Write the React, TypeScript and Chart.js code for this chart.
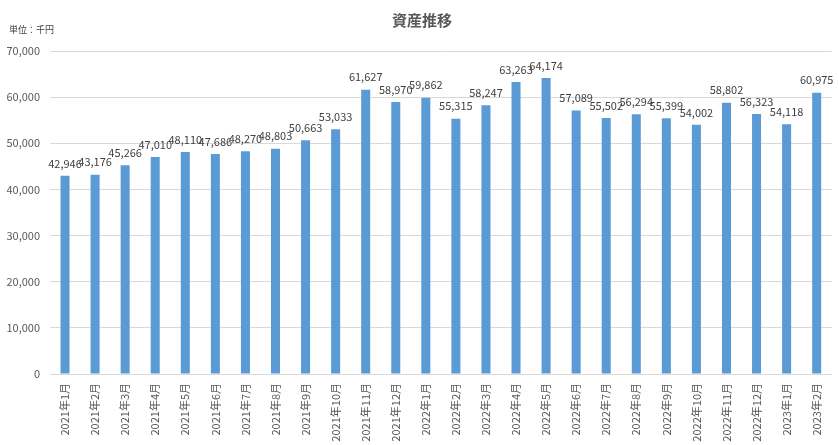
import React, { useEffect, useRef } from "react";
import { Chart, registerables } from "chart.js";

Chart.register(...registerables);

const categories = [
  "2021年1月", "2021年2月", "2021年3月", "2021年4月", "2021年5月", "2021年6月",
  "2021年7月", "2021年8月", "2021年9月", "2021年10月", "2021年11月", "2021年12月",
  "2022年1月", "2022年2月", "2022年3月", "2022年4月", "2022年5月", "2022年6月",
  "2022年7月", "2022年8月", "2022年9月", "2022年10月", "2022年11月", "2022年12月",
  "2023年1月", "2023年2月",
];

const assets = [
  42946, 43176, 45266, 47010, 48110, 47686, 48270, 48803, 50663, 53033, 61627, 58970,
  59862, 55315, 58247, 63263, 64174, 57089, 55502, 56294, 55399, 54002, 58802, 56323,
  54118, 60975,
];

const titleText = "資産推移";
const unitText = "単位：千円";

const FONT = "'Noto Sans CJK JP', 'Noto Sans', sans-serif";

const textPlugin = {
  id: "texts",
  afterDatasetsDraw(chart: any) {
    const ctx = chart.ctx;
    ctx.save();
    const meta = chart.getDatasetMeta(0);
    ctx.font = `11px ${FONT}`;
    ctx.fillStyle = "#404040";
    ctx.textAlign = "center";
    ctx.textBaseline = "bottom";
    meta.data.forEach((bar: any, i: number) => {
      const v = chart.data.datasets[0].data[i] as number;
      ctx.fillText(v.toLocaleString("en-US"), bar.x, bar.y - 7);
    });
    ctx.font = `bold 15px ${FONT}`;
    ctx.fillStyle = "#595959";
    ctx.textBaseline = "middle";
    ctx.fillText(titleText, 422, 20);
    ctx.font = `9px ${FONT}`;
    ctx.textAlign = "left";
    ctx.fillStyle = "#404040";
    ctx.fillText(unitText, 9, 30);
    ctx.restore();
  },
};

export default function App() {
  const ref = useRef<HTMLCanvasElement>(null);
  useEffect(() => {
    if (!ref.current) return;
    const chart = new Chart(ref.current, {
      type: "bar",
      data: {
        labels: categories,
        datasets: [
          {
            data: assets,
            backgroundColor: "#5b9bd5",
            categoryPercentage: 1,
            barPercentage: 0.3,
          },
        ],
      },
      options: {
        animation: false,
        responsive: false,
        devicePixelRatio: 1,
        layout: { padding: { top: 51, right: 6, left: 0, bottom: 0 } },
        plugins: {
          legend: { display: false },
          title: { display: false },
          tooltip: { enabled: false },
        },
        scales: {
          x: {
            grid: { display: false, drawTicks: false },
            border: { color: "#d9d9d9" },
            ticks: {
              minRotation: 90,
              maxRotation: 90,
              autoSkip: false,
              color: "#595959",
              font: { size: 11, family: FONT },
              padding: 9,
            },
            afterFit(scale: any) {
              scale.height = 71;
            },
          },
          y: {
            min: 0,
            max: 70000,
            grid: { color: "#d9d9d9", drawTicks: false },
            border: { display: false },
            ticks: {
              stepSize: 10000,
              color: "#595959",
              font: { size: 11, family: FONT },
              padding: 10,
              callback: (v: any) => Number(v).toLocaleString("en-US"),
            },
            afterFit(scale: any) {
              scale.width = 50;
            },
          },
        },
      },
      plugins: [textPlugin],
    });
    return () => chart.destroy();
  }, []);
  return (
    <div style={{ position: "fixed", left: 0, top: 0, width: 839, height: 445, background: "#fff" }}>
      <canvas ref={ref} width={839} height={445} style={{ width: 839, height: 445 }} />
    </div>
  );
}
